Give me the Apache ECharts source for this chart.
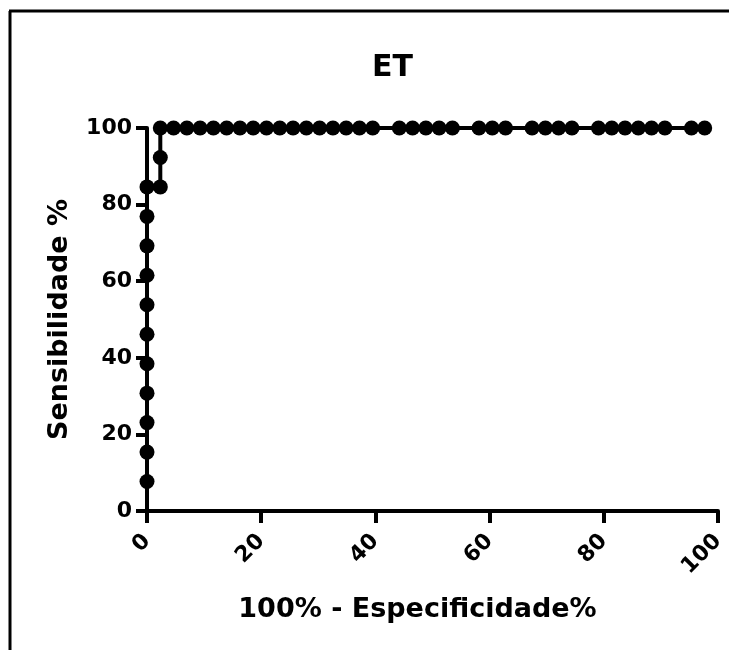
<!DOCTYPE html>
<html>
<head>
<meta charset="utf-8">
<script src="https://cdn.jsdelivr.net/npm/echarts@6/dist/echarts.min.js"></script>
<style>
html,body{margin:0;padding:0;background:#fff;}
#chart{width:729px;height:650px;}
</style>
</head>
<body>
<div id="chart"></div>
<script>
// 100% - Especificidade% (x) and Sensibilidade % (y) for each ROC point
const fpr = [0, 0, 0, 0, 0, 0, 0, 0, 0, 0, 0,
  2.33, 2.33, 2.33,
  4.65, 6.98, 9.30, 11.63, 13.95, 16.28, 18.60, 20.93, 23.26, 25.58, 27.91, 30.23, 32.56, 34.88, 37.21, 39.53,
  44.19, 46.51, 48.84, 51.16, 53.49,
  58.14, 60.47, 62.79,
  67.44, 69.77, 72.09, 74.42,
  79.07, 81.40, 83.72, 86.05, 88.37, 90.70,
  95.35, 97.67];
const sens = [7.69, 15.38, 23.08, 30.77, 38.46, 46.15, 53.85, 61.54, 69.23, 76.92, 84.62,
  84.62, 92.31, 100,
  100, 100, 100, 100, 100, 100, 100, 100, 100, 100, 100, 100, 100, 100, 100, 100,
  100, 100, 100, 100, 100,
  100, 100, 100,
  100, 100, 100, 100,
  100, 100, 100, 100, 100, 100,
  100, 100];
const xTicks = [0, 20, 40, 60, 80, 100];
const yTicks = [0, 20, 40, 60, 80, 100];
const titleText = 'ET';
const xName = '100% - Especificidade%';
const yName = 'Sensibilidade %';

const FONT = '"DejaVu Sans", "Liberation Sans", Arial, sans-serif';
const chart = echarts.init(document.getElementById('chart'), null, {renderer: 'canvas'});
const pts = fpr.map((x, i) => [x, sens[i]]);

chart.setOption({
  backgroundColor: '#ffffff',
  animation: false,
  title: {
    text: titleText,
    left: 372, top: 53,
    padding: 0,
    textStyle: {fontFamily: FONT, fontWeight: 'bold', fontSize: 30, color: '#000'}
  },
  graphic: [
    {type: 'line', shape: {x1: 10, y1: 11, x2: 10, y2: 650}, style: {stroke: '#000', lineWidth: 3}},
    {type: 'line', shape: {x1: 9, y1: 11, x2: 729, y2: 11}, style: {stroke: '#000', lineWidth: 3}}
  ],
  grid: {left: 147, right: 11, top: 128, bottom: 139, containLabel: false},
  xAxis: {
    type: 'value', min: xTicks[0], max: xTicks[xTicks.length - 1], interval: 20,
    name: xName, nameLocation: 'middle', nameGap: 85,
    nameTextStyle: {fontFamily: FONT, fontWeight: 'bold', fontSize: 27, color: '#000', padding: [0, 30, 0, 0]},
    axisLine: {show: true, onZero: false, lineStyle: {color: '#000', width: 4}},
    axisTick: {show: true, inside: false, length: 12, lineStyle: {color: '#000', width: 4}},
    axisLabel: {rotate: 45, margin: 27, fontFamily: FONT, fontWeight: 'bold', fontSize: 22, color: '#000'},
    splitLine: {show: false}
  },
  yAxis: {
    type: 'value', min: yTicks[0], max: yTicks[yTicks.length - 1], interval: 20,
    name: yName, nameLocation: 'middle', nameGap: 74,
    nameTextStyle: {fontFamily: FONT, fontWeight: 'bold', fontSize: 27, color: '#000'},
    axisLine: {show: true, onZero: false, lineStyle: {color: '#000', width: 4}},
    axisTick: {show: true, inside: false, length: 11, lineStyle: {color: '#000', width: 4}},
    axisLabel: {margin: 15, fontFamily: FONT, fontWeight: 'bold', fontSize: 22, color: '#000'},
    splitLine: {show: false}
  },
  series: [{
    type: 'line',
    data: pts,
    symbol: 'circle',
    symbolSize: 15,
    showAllSymbol: true,
    clip: false,
    lineStyle: {color: '#000', width: 4},
    itemStyle: {color: '#000', borderWidth: 0}
  }]
});
</script>
</body>
</html>
